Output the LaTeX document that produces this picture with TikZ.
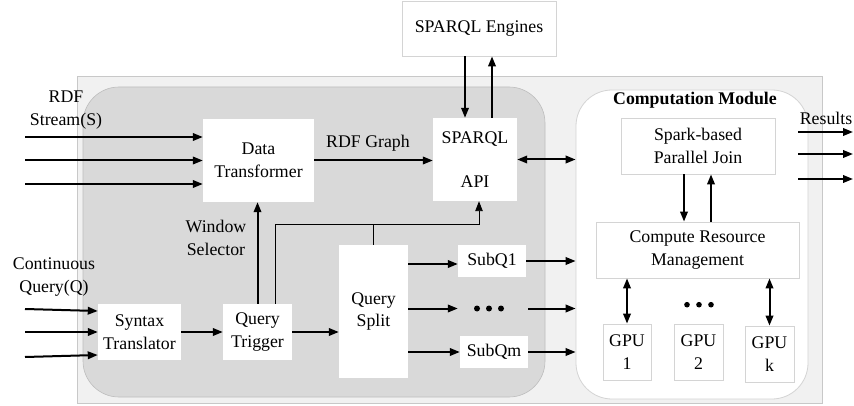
\documentclass[tikz,border=0pt]{standalone}
\usepackage{fontspec}
\setmainfont{Liberation Serif}
\usetikzlibrary{arrows.meta}
\definecolor{outerfill}{HTML}{F1F1F1}
\definecolor{outerline}{HTML}{C8C8C8}
\definecolor{darkfill}{HTML}{D9D9D9}
\definecolor{darkline}{HTML}{BDBDBD}
\definecolor{boxline}{HTML}{D4D4D4}
\tikzset{
  every node/.style={font=\fontsize{17.8}{22.5}\selectfont, align=center, inner sep=0pt},
  linebox/.style={fill=white, draw=boxline, line width=0.8pt},
  arr/.style={line width=2pt, -{Triangle[length=10pt,width=7.5pt]}},
  dbl/.style={line width=2pt, {Triangle[length=10pt,width=7.5pt]}-{Triangle[length=10pt,width=7.5pt]}},
  thinarr/.style={line width=0.9pt, -{Triangle[length=10pt,width=7.5pt]}},
  dotmark/.style={fill=black}
}
\begin{document}
\begin{tikzpicture}[x=1pt,y=-1pt]
\useasboundingbox (0,0) rectangle (854,406);

% frames
\fill[outerfill, draw=outerline, line width=0.8pt] (77,76) rectangle (822,403);
\fill[darkfill, draw=darkline, line width=0.6pt, rounded corners=36pt] (83,87) rectangle (545,397);
\node[fill=white, draw=boxline, line width=0.8pt, rounded corners=36pt,
      minimum width=232pt, minimum height=309pt] (cm) at (692,244.5) {};
\node[font=\fontsize{17.8}{22.5}\selectfont\bfseries] (cmt) at (695,100) {Computation Module};

% external engine
\node[linebox, minimum width=154pt, minimum height=55pt] (eng) at (479,28.5) {SPARQL Engines};

% stream / query processing blocks
\node[fill=white, minimum width=111pt, minimum height=83pt] (dt) at (258.5,160.5) {Data\\Transformer};
\node[fill=white, minimum width=84pt, minimum height=83pt] (api) at (475,159.5) {SPARQL\\[21pt]API};
\node[fill=white, minimum width=83pt, minimum height=56pt] (st) at (139.5,332) {Syntax\\Translator};
\node[fill=white, minimum width=69pt, minimum height=56pt] (qt) at (257.5,332) {Query\\Trigger};
\node[fill=white, minimum width=69pt, minimum height=133pt] (qs) at (373.5,311.5) {Query\\Split};
\node[fill=white, minimum width=68pt, minimum height=32pt] (sq1) at (492,261) {SubQ1};
\node[minimum width=70pt, minimum height=20pt] (dots1) at (493,308.5) {};
\node[fill=white, minimum width=68pt, minimum height=32pt] (sqm) at (494,352) {SubQm};

% computation module blocks
\node[linebox, minimum width=154pt, minimum height=56pt] (spj) at (698,146) {Spark-based\\Parallel Join};
\node[linebox, minimum width=203pt, minimum height=56pt] (crm) at (697.5,250) {Compute Resource\\Management};
\node[linebox, minimum width=48pt, minimum height=56pt] (g1) at (627,352) {GPU\\1};
\node[linebox, minimum width=49pt, minimum height=56pt] (g2) at (698.5,352) {GPU\\2};
\node[linebox, minimum width=49pt, minimum height=56pt] (gk) at (769.5,354) {GPU\\k};
\node[minimum width=40pt, minimum height=10pt] (dots2) at (699,304.7) {};

% ellipsis marks
\foreach \dx in {-12,0,12} {
  \fill[dotmark] ([xshift=\dx pt-4pt]dots1.center) circle (3pt);
  \fill[dotmark] ([xshift=\dx pt]dots2.center) circle (2.8pt);
}

% labels
\node (lrdf) at (66,110) {RDF\\Stream(S)};
\node (lcq) at (54,277) {Continuous\\Query(Q)};
\node (lws) at (216,238) {Window\\Selector};
\node (lgraph) at (368,143) {RDF Graph};
\node (lres) at (826,118) {Results};

% free ends of input and output arrows
\coordinate (s1) at (25,137);
\coordinate (s2) at (25,160.5);
\coordinate (s3) at (25,184);
\coordinate (q1) at (25,309);
\coordinate (q2) at (25,332);
\coordinate (q3) at (25,357);
\coordinate (r1a) at (798,132);
\coordinate (r1b) at (853,132);
\coordinate (r2a) at (798,154);
\coordinate (r2b) at (853,154);
\coordinate (r3a) at (798,179);
\coordinate (r3b) at (853,179);

% RDF stream inputs
\draw[arr] (s1) -- (s1 -| dt.west);
\draw[arr] (s2) -- (s2 -| dt.west);
\draw[arr] (s3) -- (s3 -| dt.west);

% continuous query inputs
\draw[arr] (q1) -- ([yshift=21pt]st.west);
\draw[arr] (q2) -- (st.west);
\draw[arr] (q3) -- ([yshift=-23pt]st.west);

% processing chain
\draw[arr] (dt.east) -- (dt.east -| api.west);
\draw[arr] ([xshift=-14pt]eng.south) -- ([xshift=-10pt]api.north);
\draw[arr] ([xshift=17pt]api.north) -- ([xshift=13pt]eng.south);
\draw[dbl] (api.east) -- (api.east -| cm.west);
\draw[arr] (st.east) -- (qt.west);
\draw[arr] (qt.east) -- (qt.east -| qs.west);
\draw[arr] (qt.north) -- (qt.north |- dt.south);
\draw[thinarr] ([xshift=17.5pt]qt.north) -- ++(0,-79) coordinate (bus) -| ([xshift=4pt]api.south);
\draw[line width=0.9pt] (qs.north) -- (qs.north |- bus);

% split outputs
\draw[arr] ([yshift=-3pt]sq1.west -| qs.east) -- ([yshift=-3pt]sq1.west);
\draw[arr] (dots1.west -| qs.east) -- (dots1.west);
\draw[arr] (sqm.west -| qs.east) -- (sqm.west);
\draw[arr] (sq1.east) -- (sq1.east -| cm.west);
\draw[arr] (dots1.east) -- (dots1.east -| cm.west);
\draw[arr] (sqm.east) -- (sqm.east -| cm.west);

% computation module links
\draw[arr] ([xshift=-14pt]spj.south) -- ([xshift=-13.5pt]crm.north);
\draw[arr] ([xshift=13.5pt]crm.north) -- ([xshift=13pt]spj.south);
\draw[dbl] (g1.north) -- (g1.north |- crm.south);
\draw[dbl] (gk.north) -- (gk.north |- crm.south);

% results
\draw[arr] (r1a) -- (r1b);
\draw[arr] (r2a) -- (r2b);
\draw[arr] (r3a) -- (r3b);
\end{tikzpicture}
\end{document}
